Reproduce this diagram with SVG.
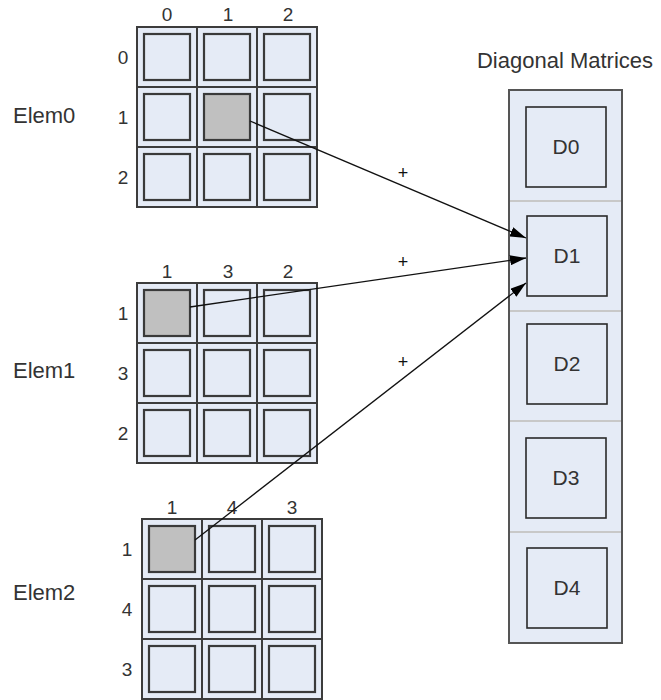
<svg xmlns="http://www.w3.org/2000/svg" width="661" height="700" viewBox="0 0 661 700">
<style>
text{font-family:"Liberation Sans",Arial,sans-serif;fill:#333;}
.lbl{font-size:22px;}
.num{font-size:19px;text-anchor:middle;}
.dl{font-size:21px;text-anchor:middle;}
.plus{font-size:18px;text-anchor:middle;fill:#111;}
.cell{fill:#e5ebf6;stroke:#3c3c3c;stroke-width:2;}
.outer{fill:none;stroke:#9a9a9a;stroke-width:1;}
.in{fill:#e5ebf6;stroke:#3a3a3a;stroke-width:2.2;}
.hi{fill:#c0c0c0;stroke:#3a3a3a;stroke-width:2.2;}
.col{fill:#e5ebf6;stroke:#555;stroke-width:2;}
.div{stroke:#c8c8c8;stroke-width:2;}
.dsq{fill:#e5ebf6;stroke:#2a2a2a;stroke-width:1.6;}
.conn{stroke:#111;stroke-width:1.3;fill:none;marker-end:url(#ah);}
</style>
<defs>
<marker id="ah" viewBox="0 0 16 10" refX="16" refY="5" markerWidth="16" markerHeight="10" markerUnits="userSpaceOnUse" orient="auto">
<path d="M0,0 L16,5 L0,10 z" fill="#000"/>
</marker>
</defs>

<g id="elem0">
<text class="lbl" x="13" y="123">Elem0</text>
<text class="num" x="167" y="21">0</text>
<text class="num" x="228" y="21">1</text>
<text class="num" x="288" y="21">2</text>
<text class="num" x="123" y="64">0</text>
<text class="num" x="123" y="124">1</text>
<text class="num" x="123" y="184">2</text>
<rect class="cell" x="137" y="27" width="60" height="60"/><rect class="cell" x="197" y="27" width="60" height="60"/><rect class="cell" x="257" y="27" width="60" height="60"/>
<rect class="cell" x="137" y="87" width="60" height="60"/><rect class="cell" x="197" y="87" width="60" height="60"/><rect class="cell" x="257" y="87" width="60" height="60"/>
<rect class="cell" x="137" y="147" width="60" height="60"/><rect class="cell" x="197" y="147" width="60" height="60"/><rect class="cell" x="257" y="147" width="60" height="60"/>
<rect class="in" x="144" y="34" width="46" height="46"/><rect class="in" x="204" y="34" width="46" height="46"/><rect class="in" x="264" y="34" width="46" height="46"/>
<rect class="in" x="144" y="94" width="46" height="46"/><rect class="hi" x="204" y="94" width="46" height="46"/><rect class="in" x="264" y="94" width="46" height="46"/>
<rect class="in" x="144" y="154" width="46" height="46"/><rect class="in" x="204" y="154" width="46" height="46"/><rect class="in" x="264" y="154" width="46" height="46"/>
</g>

<g id="elem1">
<text class="lbl" x="13" y="378">Elem1</text>
<text class="num" x="167" y="278">1</text>
<text class="num" x="228" y="278">3</text>
<text class="num" x="288" y="278">2</text>
<text class="num" x="123" y="320">1</text>
<text class="num" x="123" y="380">3</text>
<text class="num" x="123" y="440">2</text>
<rect class="cell" x="137" y="283" width="60" height="60"/><rect class="cell" x="197" y="283" width="60" height="60"/><rect class="cell" x="257" y="283" width="60" height="60"/>
<rect class="cell" x="137" y="343" width="60" height="60"/><rect class="cell" x="197" y="343" width="60" height="60"/><rect class="cell" x="257" y="343" width="60" height="60"/>
<rect class="cell" x="137" y="403" width="60" height="60"/><rect class="cell" x="197" y="403" width="60" height="60"/><rect class="cell" x="257" y="403" width="60" height="60"/>
<rect class="hi" x="144" y="290" width="46" height="46"/><rect class="in" x="204" y="290" width="46" height="46"/><rect class="in" x="264" y="290" width="46" height="46"/>
<rect class="in" x="144" y="350" width="46" height="46"/><rect class="in" x="204" y="350" width="46" height="46"/><rect class="in" x="264" y="350" width="46" height="46"/>
<rect class="in" x="144" y="410" width="46" height="46"/><rect class="in" x="204" y="410" width="46" height="46"/><rect class="in" x="264" y="410" width="46" height="46"/>
</g>

<g id="elem2">
<text class="lbl" x="13" y="600">Elem2</text>
<text class="num" x="172" y="514">1</text>
<text class="num" x="232" y="514">4</text>
<text class="num" x="292" y="514">3</text>
<text class="num" x="127" y="556">1</text>
<text class="num" x="127" y="616">4</text>
<text class="num" x="127" y="676">3</text>
<rect class="cell" x="142" y="519" width="60" height="60"/><rect class="cell" x="202" y="519" width="60" height="60"/><rect class="cell" x="262" y="519" width="60" height="60"/>
<rect class="cell" x="142" y="579" width="60" height="60"/><rect class="cell" x="202" y="579" width="60" height="60"/><rect class="cell" x="262" y="579" width="60" height="60"/>
<rect class="cell" x="142" y="639" width="60" height="60"/><rect class="cell" x="202" y="639" width="60" height="60"/><rect class="cell" x="262" y="639" width="60" height="60"/>
<rect class="hi" x="149" y="526" width="46" height="46"/><rect class="in" x="209" y="526" width="46" height="46"/><rect class="in" x="269" y="526" width="46" height="46"/>
<rect class="in" x="149" y="586" width="46" height="46"/><rect class="in" x="209" y="586" width="46" height="46"/><rect class="in" x="269" y="586" width="46" height="46"/>
<rect class="in" x="149" y="646" width="46" height="46"/><rect class="in" x="209" y="646" width="46" height="46"/><rect class="in" x="269" y="646" width="46" height="46"/>
</g>

<g id="diagonal">
<text class="lbl" x="565" y="68" text-anchor="middle">Diagonal Matrices</text>
<rect class="col" x="509" y="90" width="113" height="553"/>
<line class="div" x1="510" y1="201" x2="621" y2="201"/>
<line class="div" x1="510" y1="311" x2="621" y2="311"/>
<line class="div" x1="510" y1="421" x2="621" y2="421"/>
<line class="div" x1="510" y1="532" x2="621" y2="532"/>
</g>
<g id="D0"><rect class="dsq" x="526" y="107" width="80" height="80"/><text class="dl" x="566" y="154">D0</text></g>
<g id="D1"><rect class="dsq" x="527" y="216" width="80" height="80"/><text class="dl" x="567" y="263">D1</text></g>
<g id="D2"><rect class="dsq" x="527" y="324" width="80" height="80"/><text class="dl" x="567" y="371">D2</text></g>
<g id="D3"><rect class="dsq" x="526" y="438" width="80" height="80"/><text class="dl" x="566" y="485">D3</text></g>
<g id="D4"><rect class="dsq" x="527" y="548" width="80" height="80"/><text class="dl" x="567" y="595">D4</text></g>

<g id="connectors">
<line class="conn" x1="250" y1="121" x2="526" y2="238"/>
<line class="conn" x1="190" y1="307" x2="526" y2="258"/>
<line class="conn" x1="195" y1="540" x2="526" y2="283"/>
<text class="plus" x="403" y="179">+</text>
<text class="plus" x="403" y="268">+</text>
<text class="plus" x="403" y="368">+</text>
</g>
</svg>
